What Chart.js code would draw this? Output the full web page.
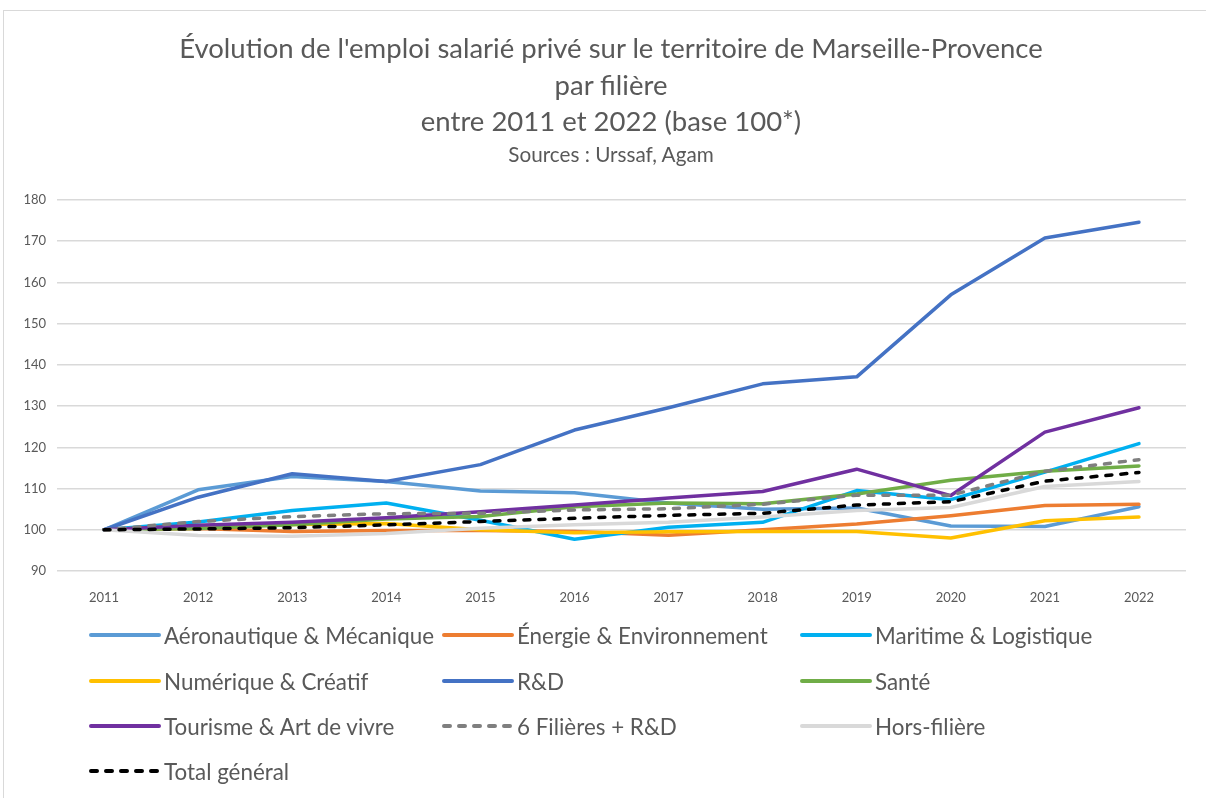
<!DOCTYPE html>
<html lang="fr">
<head>
<meta charset="utf-8">
<script src="https://cdn.jsdelivr.net/npm/chart.js@4.4.1/dist/chart.umd.min.js"></script>
<style>
  html,body{margin:0;padding:0;background:#fff;}
  body{width:1206px;height:798px;overflow:hidden;position:relative;font-family:Lato,"Open Sans",sans-serif;color:#595959;}
  #frame{position:absolute;left:3px;top:10px;width:1300px;height:900px;border:1px solid #d9d9d9;box-sizing:border-box;}
  #cv{position:absolute;left:0;top:0;}
  .ttl{position:absolute;left:16px;width:1190px;text-align:center;white-space:nowrap;}
  .t1{font-size:27.5px;line-height:30px;}
  .t2{font-size:20.7px;line-height:24px;}
  #legend{position:absolute;left:0;top:0;}
  .lg{position:absolute;display:flex;align-items:center;height:30px;font-size:22.4px;white-space:nowrap;}
  .lg svg{margin-right:3px;}
</style>
</head>
<body>
<div id="frame"></div>
<canvas id="cv" width="1206" height="798"></canvas>
<div class="ttl t1" style="top:33px">Évolution de l'emploi salarié privé sur le territoire de Marseille-Provence</div>
<div class="ttl t1" style="top:70px">par filière</div>
<div class="ttl t1" style="top:106px">entre 2011 et 2022 (base 100*)</div>
<div class="ttl t2" style="top:142px">Sources : Urssaf, Agam</div>
<div id="legend"></div>
<script>
// années (axe des catégories)
const years = ['2011','2012','2013','2014','2015','2016','2017','2018','2019','2020','2021','2022'];
const yTicks = [90, 100, 110, 120, 130, 140, 150, 160, 170, 180];

// indices base 100 par filière
const aero      = [100, 109.7, 112.9, 111.7, 109.4, 109.0, 106.5, 105.0, 105.3, 100.9, 100.8, 105.6];
const energie   = [100, 100.3, 99.6, 99.8, 99.8, 99.6, 98.7, 100.0, 101.4, 103.4, 105.9, 106.2];
const maritime  = [100, 101.9, 104.7, 106.5, 102.3, 97.7, 100.6, 101.8, 109.5, 107.3, 114.0, 120.9];
const numerique = [100, 101.0, 101.3, 101.5, 100.0, 99.3, 99.5, 99.6, 99.6, 98.0, 102.2, 103.1];
const rd        = [100, 107.9, 113.6, 111.7, 115.8, 124.2, 129.6, 135.4, 137.1, 157.0, 170.8, 174.6];
const sante     = [100, 100.3, 101.2, 102.6, 103.2, 105.6, 106.5, 106.3, 108.7, 112.0, 114.2, 115.5];
const tourisme  = [100, 101.1, 101.8, 102.9, 104.4, 106.0, 107.7, 109.3, 114.7, 108.3, 123.7, 129.6];
const filieres  = [100, 102.0, 103.2, 103.9, 104.0, 104.8, 105.1, 106.2, 108.4, 108.4, 114.2, 117.0];
const hors      = [100, 98.6, 98.4, 99.1, 100.4, 101.2, 101.8, 103.1, 104.7, 105.4, 110.5, 111.7];
const total     = [100, 100.2, 100.5, 101.2, 102.0, 102.8, 103.5, 104.0, 106.0, 106.8, 111.8, 113.9];

const series = [
  {label:'Aéronautique & Mécanique', data:aero,      color:'#5B9BD5'},
  {label:'Énergie & Environnement',  data:energie,   color:'#ED7D31'},
  {label:'Maritime & Logistique',    data:maritime,  color:'#00B0F0'},
  {label:'Numérique & Créatif',      data:numerique, color:'#FFC000'},
  {label:'R&D',                      data:rd,        color:'#4472C4'},
  {label:'Santé',                    data:sante,     color:'#70AD47'},
  {label:'Tourisme & Art de vivre',  data:tourisme,  color:'#7030A0'},
  {label:'6 Filières + R&D',         data:filieres,  color:'#7F7F7F', dash:true},
  {label:'Hors-filière',             data:hors,      color:'#D9D9D9'},
  {label:'Total général',            data:total,     color:'#000000', dash:true}
];

const FONT = 'Lato, "Open Sans", sans-serif';
const n = series.length;

const chart = new Chart(document.getElementById('cv'), {
  type:'line',
  data:{
    labels:years,
    datasets:series.map((s,i)=>({
      label:s.label, data:s.data,
      borderColor:s.color, backgroundColor:s.color,
      borderWidth:3.5, pointRadius:0, tension:0,
      borderDash:s.dash?[6,9]:[], borderCapStyle:'round', borderJoinStyle:'round',
      order:n-i   // dernière série dessinée au-dessus, comme Excel
    }))
  },
  options:{
    responsive:false, animation:false, devicePixelRatio:1,
    layout:{padding:{top:200, right:20, bottom:187, left:0}},
    plugins:{legend:{display:false}, title:{display:false}, tooltip:{enabled:false}},
    scales:{
      x:{
        offset:true,
        grid:{display:false},
        border:{display:false},
        ticks:{color:'#595959', font:{family:FONT, size:13}, padding:11, maxRotation:0},
        afterFit:s=>{ s.height = 40; }
      },
      y:{
        min:90, max:180,
        afterBuildTicks:s=>{ s.ticks = yTicks.map(v=>({value:v})); },
        grid:{color:'#D9D9D9', lineWidth:1.5, drawTicks:false},
        border:{display:false},
        ticks:{color:'#595959', font:{family:FONT, size:13}, padding:11},
        afterFit:s=>{ s.width = 57; }
      }
    }
  }
});

// légende en 3 colonnes, construite depuis les datasets
const colX = [89, 442, 800], rowY = [620, 666, 711, 756];
document.getElementById('legend').innerHTML = chart.data.datasets.map((d,i)=>{
  const dash = d.borderDash.length ? 'stroke-dasharray="6 9"' : '';
  return `<div class="lg" style="left:${colX[i%3]}px;top:${rowY[Math.floor(i/3)]}px">
    <svg width="72" height="10"><line x1="2" y1="5" x2="70" y2="5" stroke="${d.borderColor}" stroke-width="4" stroke-linecap="round" ${dash}/></svg>
    <span>${d.label}</span></div>`;
}).join('');
</script>
</body>
</html>
